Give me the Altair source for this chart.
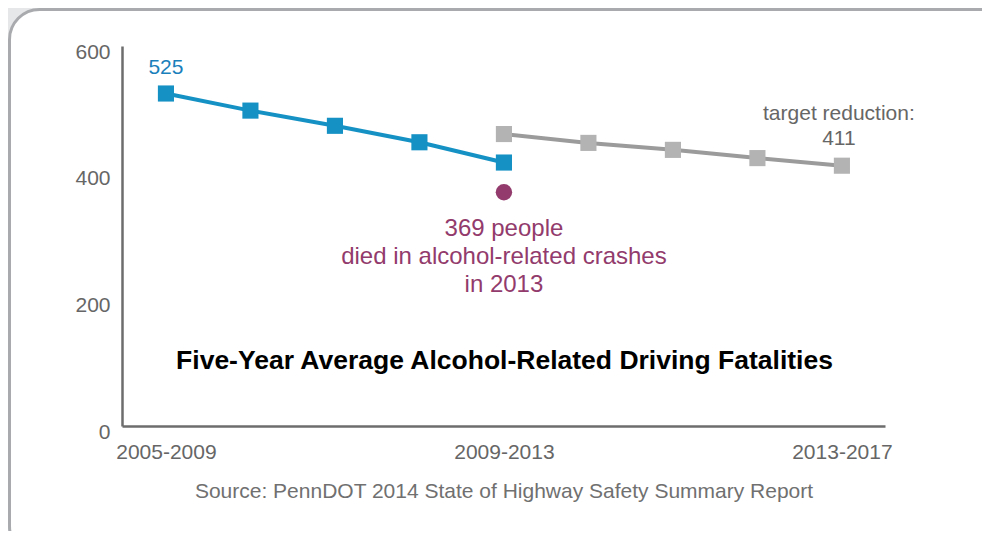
import altair as alt
import pandas as pd

# ---- data ----
period_labels = ["2005-2009", "2009-2013", "2013-2017"]
period_positions = [0, 4, 8]
actual_x = [0, 1, 2, 3, 4]
actual_values = [525, 498, 474, 448, 416]
target_x = [4, 5, 6, 7, 8]
target_values = [461, 447, 436, 423, 411]
deaths_x = [4]
deaths_values = [369]
y_ticks = [0, 200, 400, 600]

title_text = "Five-Year Average Alcohol-Related Driving Fatalities"
source_text = "Source: PennDOT 2014 State of Highway Safety Summary Report"
deaths_note = ["369 people", "died in alcohol-related crashes", "in 2013"]
target_note = ["target reduction:", "411"]
first_note = ["525"]

BLUE = "#1591c4"
BLUE_TXT = "#1a80bb"
GRAY_LINE = "#9b9b9b"
GRAY_PT = "#b3b3b3"
PURPLE = "#923b6c"
TXT = "#666666"
FONT = "Liberation Sans"

W, H = 763, 380

actual = pd.DataFrame({"x": actual_x, "v": actual_values})
target = pd.DataFrame({"x": target_x, "v": target_values})
deaths = pd.DataFrame({"x": deaths_x, "v": deaths_values})

label_expr = " : ".join(
    f"datum.value == {p} ? '{l}'" for p, l in zip(period_positions, period_labels)
) + " : ''"

xs = alt.Scale(domain=[-0.52, 8.51], nice=False, zero=False)
ys = alt.Scale(domain=[0, 600], nice=False)

x_axis = alt.Axis(
    values=period_positions, labelExpr=label_expr, grid=False, ticks=False,
    domainColor="#6d6d6d", domainWidth=2.5, labelColor=TXT, labelFont=FONT,
    labelFontSize=21, labelPadding=15, labelFlush=False,
    title=source_text, titleFont=FONT, titleFontSize=21, titleFontWeight="normal",
    titleColor="#707070", titlePadding=18, zindex=1,
)
y_axis = alt.Axis(
    values=y_ticks, grid=False, ticks=False, domainColor="#6d6d6d", domainWidth=2.5,
    labelColor=TXT, labelFont=FONT, labelFontSize=21, labelPadding=12,
    labelOffset=6, title=None, zindex=1,
)

box = alt.Chart(pd.DataFrame({"a": [0]})).mark_rect(
    fill="white", stroke="#a8aaad", strokeWidth=3, cornerRadius=30,
).encode(
    x=alt.value(-112.5), x2=alt.value(W + 140), y=alt.value(-36.5), y2=alt.value(H + 130),
)

axes = alt.Chart(actual).mark_point(opacity=0).encode(
    x=alt.X("x:Q", scale=xs, axis=x_axis),
    y=alt.Y("v:Q", scale=ys, axis=y_axis),
)

act_line = alt.Chart(actual).mark_line(color=BLUE, strokeWidth=4).encode(
    x=alt.X("x:Q", scale=xs), y=alt.Y("v:Q", scale=ys))
act_pts = alt.Chart(actual).mark_point(shape="square", filled=True, opacity=1,
                                       color=BLUE, size=260).encode(
    x=alt.X("x:Q", scale=xs), y=alt.Y("v:Q", scale=ys))

tgt_line = alt.Chart(target).mark_line(color=GRAY_LINE, strokeWidth=4).encode(
    x=alt.X("x:Q", scale=xs), y=alt.Y("v:Q", scale=ys))
tgt_pts = alt.Chart(target).mark_point(shape="square", filled=True, opacity=1,
                                       color=GRAY_PT, size=260).encode(
    x=alt.X("x:Q", scale=xs), y=alt.Y("v:Q", scale=ys))

dot = alt.Chart(deaths).mark_point(shape="circle", filled=True, opacity=1,
                                   color=PURPLE, size=270).encode(
    x=alt.X("x:Q", scale=xs), y=alt.Y("v:Q", scale=ys))

first_lbl = alt.Chart(actual.head(1)).mark_text(
    text=first_note, color=BLUE_TXT, font=FONT, fontSize=21, dy=-26,
).encode(x=alt.X("x:Q", scale=xs), y=alt.Y("v:Q", scale=ys))

target_lbl = alt.Chart(target.tail(1)).mark_text(
    text=target_note, color=TXT, font=FONT, fontSize=21, baseline="bottom",
    dy=-42, dx=-3, lineHeight=25,
).encode(x=alt.X("x:Q", scale=xs), y=alt.Y("v:Q", scale=ys))

deaths_lbl = alt.Chart(deaths).mark_text(
    text=deaths_note, color=PURPLE, font=FONT, fontSize=24, baseline="top",
    dy=25, lineHeight=28,
).encode(x=alt.X("x:Q", scale=xs), y=alt.Y("v:Q", scale=ys))

title = alt.Chart(pd.DataFrame({"a": [0]})).mark_text(
    text=title_text, color="black", font=FONT, fontSize=26.5, fontWeight="bold",
).encode(x=alt.value(W / 2 + 1), y=alt.value(315))

chart = alt.layer(
    box, axes, tgt_line, tgt_pts, act_line, act_pts, dot,
    first_lbl, target_lbl, deaths_lbl, title,
).properties(
    width=W, height=H,
    autosize=alt.AutoSizeParams(type="none"),
    padding={"left": 114, "top": 38, "right": 97, "bottom": 105},
    background="#e6e7e9",
).configure_view(stroke=None, clip=False)

chart.save("out.html", embed_options={"renderer": "svg", "actions": False})
